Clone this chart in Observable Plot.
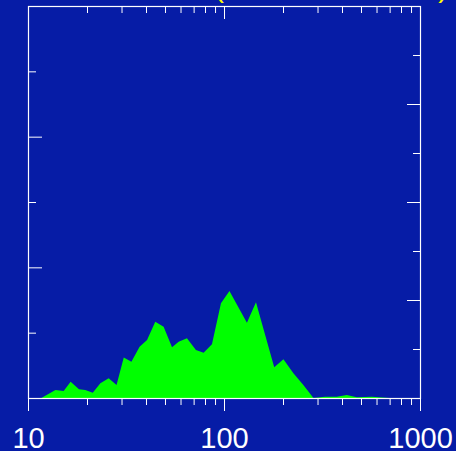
<!DOCTYPE html>
<html>
<head>
<meta charset="utf-8">
<script src="https://cdn.jsdelivr.net/npm/d3@7"></script>
<script src="https://cdn.jsdelivr.net/npm/@observablehq/plot@0.6"></script>
<style>
  html, body { margin: 0; padding: 0; background: #061ca6; overflow: hidden; }
</style>
</head>
<body>
<div id="chart"></div>
<script>
// Size (log axis) and frequency values
const sizes = [11.7, 13.8, 15.2, 16.5, 18.2, 19.6, 21.4, 23.4, 25.8, 28.3, 30.8, 33.7, 37.1, 40.5, 44.6, 49.2, 54.3, 58.7, 64.7, 71.9, 78.7, 86.8, 96.5, 106.6, 130.9, 145.6, 180.4, 201, 226, 254, 286, 328, 376, 423, 476, 568, 640, 700];
const freqs = [0, 0.061, 0.054, 0.125, 0.067, 0.061, 0.04, 0.112, 0.151, 0.1, 0.309, 0.278, 0.393, 0.444, 0.584, 0.546, 0.388, 0.431, 0.457, 0.367, 0.347, 0.411, 0.725, 0.819, 0.576, 0.732, 0.235, 0.296, 0.189, 0.1, 0, 0.01, 0.01, 0.023, 0.005, 0.01, 0.004, 0];

// Tick values
const xMajor = [10, 100, 1000];
const xLabels = ["10", "100", "1000"];
const xMinor = [20, 30, 40, 50, 60, 70, 80, 90, 200, 300, 400, 500, 600, 700, 800, 900];
const yLeftMajor = [1, 2];
const yLeftMinor = [0.5, 1.5, 2.5];
const yRightMajor = [1, 2, 3];          // right axis units (0..4)
const yRightMinor = [0.5, 1.5, 2.5, 3.5];
const rightToLeft = 3 / 4;              // right axis 0..4 spans the same height as left 0..3

const data = sizes.map((d, i) => ({size: d, freq: freqs[i]}));
const blank = () => "";
const font = "'Liberation Sans', Arial, sans-serif";

const chart = Plot.plot({
  width: 456,
  height: 451,
  marginLeft: 28,
  marginRight: 36,
  marginTop: 6,
  marginBottom: 53,
  x: {type: "log", domain: [10, 1000]},
  y: {domain: [0, 3]},
  style: {background: "#061ca6", color: "white", fontFamily: font, overflow: "visible"},
  marks: [
    Plot.areaY(data, {x: "size", y: "freq", fill: "#00ff00", curve: "linear"}),
    Plot.frame({stroke: "white", strokeWidth: 1.2}),
    // bottom axis (outward ticks)
    Plot.axisX(xMinor, {anchor: "bottom", tickSize: 7, tickFormat: blank, label: null, stroke: "white", strokeOpacity: 1}),
    Plot.axisX(xMajor, {anchor: "bottom", tickSize: 13, tickFormat: blank, label: null, stroke: "white", strokeOpacity: 1}),
    // bottom labels
    Plot.text(xMajor, {x: d => d, frameAnchor: "bottom", dy: 40, text: d => xLabels[xMajor.indexOf(d)], fontSize: 29, fill: "white", lineAnchor: "middle"}),
    // top axis (inward ticks)
    Plot.axisX(xMinor, {anchor: "bottom", frameAnchor: "top", tickSize: 7, tickFormat: blank, label: null, stroke: "white", strokeOpacity: 1}),
    Plot.axisX([100], {anchor: "bottom", frameAnchor: "top", tickSize: 13, tickFormat: blank, label: null, stroke: "white", strokeOpacity: 1}),
    // left axis (inward ticks)
    Plot.axisY(yLeftMinor, {anchor: "right", frameAnchor: "left", tickSize: 7, tickFormat: blank, label: null, stroke: "white", strokeOpacity: 1}),
    Plot.axisY(yLeftMajor, {anchor: "right", frameAnchor: "left", tickSize: 13, tickFormat: blank, label: null, stroke: "white", strokeOpacity: 1}),
    // right axis (inward ticks)
    Plot.axisY(yRightMinor.map(v => v * rightToLeft), {anchor: "left", frameAnchor: "right", tickSize: 7, tickFormat: blank, label: null, stroke: "white", strokeOpacity: 1}),
    Plot.axisY(yRightMajor.map(v => v * rightToLeft), {anchor: "left", frameAnchor: "right", tickSize: 13, tickFormat: blank, label: null, stroke: "white", strokeOpacity: 1})
  ]
});

// Title, mostly above the visible area (only the bottoms of the parentheses show)
const svg = d3.select(chart);
svg.append("text").attr("x", 219).attr("y", -3).attr("fill", "#ffff00")
  .attr("font-size", 29).attr("font-family", font).text("(");
svg.append("text").attr("x", 443).attr("y", -3).attr("fill", "#ffff00")
  .attr("font-size", 29).attr("font-family", font).text(")");

document.getElementById("chart").append(chart);
</script>
</body>
</html>
